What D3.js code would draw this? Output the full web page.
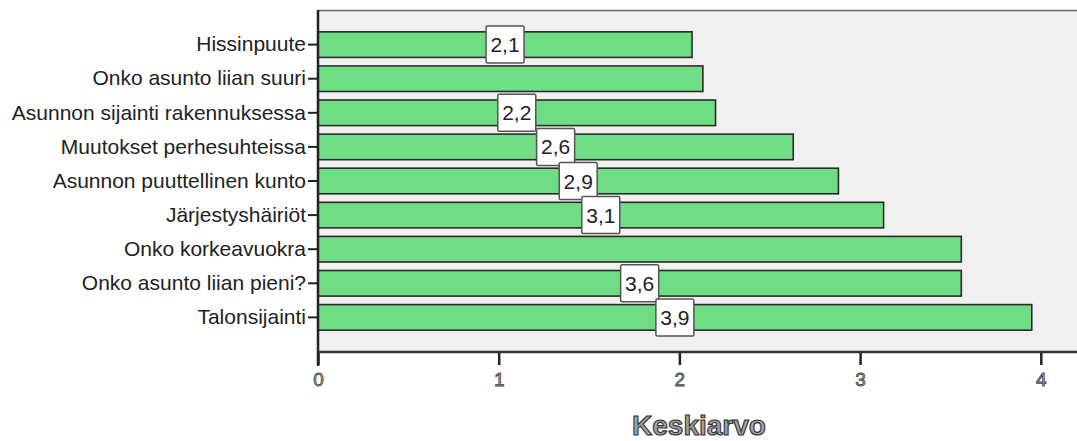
<!DOCTYPE html>
<html>
<head>
<meta charset="utf-8">
<script src="https://cdn.jsdelivr.net/npm/d3@7"></script>
<style>
  body { margin: 0; background: #fff; }
  svg { display: block; font-family: "Liberation Sans", Arial, sans-serif; }
</style>
</head>
<body>
<svg id="chart" width="1077" height="441"></svg>
<script>
// categories top to bottom
var categories = [
  "Hissinpuute",
  "Onko asunto liian suuri",
  "Asunnon sijainti rakennuksessa",
  "Muutokset perhesuhteissa",
  "Asunnon puuttellinen kunto",
  "Järjestyshäiriöt",
  "Onko korkeavuokra",
  "Onko asunto liian pieni?",
  "Talonsijainti"
];
var means = [2.07, 2.13, 2.20, 2.63, 2.88, 3.13, 3.56, 3.56, 3.95];
// value boxes as printed (some hidden in the original)
var valueLabels = ["2,1", null, "2,2", "2,6", "2,9", "3,1", null, "3,6", "3,9"];
var xTicks = [0, 1, 2, 3, 4];
var axisTitle = "Keskiarvo";

var svg = d3.select("#chart");
var plotLeft = 318, plotRight = 1077, plotTop = 10, plotBottom = 352;

var x = d3.scaleLinear().domain([0, 4.2]).range([plotLeft, plotLeft + 4.2 * 180.7]);
var y = d3.scaleBand().domain(categories).range([plotTop, plotBottom])
  .paddingInner(0.25).paddingOuter(0.64);

// plot background
svg.append("rect")
  .attr("x", plotLeft).attr("y", plotTop)
  .attr("width", plotRight - plotLeft).attr("height", plotBottom - plotTop)
  .style("fill", "#f0f0f0");

svg.append("line")
  .attr("x1", plotLeft).attr("x2", plotRight).attr("y1", plotTop + 0.5).attr("y2", plotTop + 0.5)
  .style("stroke", "#666").style("stroke-width", 1.5);

// bars
svg.selectAll("rect.bar").data(means).enter().append("rect")
  .attr("class", "bar")
  .attr("x", x(0))
  .attr("y", function (d, i) { return y(categories[i]); })
  .attr("width", function (d) { return x(d) - x(0); })
  .attr("height", y.bandwidth())
  .style("fill", "#70dd85")
  .style("stroke", "#2a2a2a")
  .style("stroke-width", 1.6);

// value boxes in the middle of each bar
var labels = svg.selectAll("g.vlabel").data(means).enter().append("g")
  .attr("class", "vlabel")
  .attr("transform", function (d, i) {
    return "translate(" + x(d / 2) + "," + (y(categories[i]) + y.bandwidth() / 2) + ")";
  })
  .style("display", function (d, i) { return valueLabels[i] ? null : "none"; });

labels.append("rect")
  .attr("x", -19).attr("y", -18.5)
  .attr("width", 38).attr("height", 37)
  .attr("rx", 1.5)
  .style("fill", "#fff")
  .style("stroke", "#555")
  .style("stroke-width", 1.5);

labels.append("text")
  .text(function (d, i) { return valueLabels[i]; })
  .attr("text-anchor", "middle")
  .attr("dy", "0.36em")
  .style("font-size", "21px")
  .style("fill", "#222");

// y axis
var yAxis = d3.axisLeft(y).tickSize(10).tickPadding(2);
var gy = svg.append("g").attr("transform", "translate(" + plotLeft + ",0)").call(yAxis);
gy.select(".domain").remove();
gy.selectAll(".tick line").style("stroke", "#222").style("stroke-width", 2);
gy.selectAll(".tick text").style("font-size", "21px").style("fill", "#222")
  .style("font-family", "'Liberation Sans', Arial, sans-serif");

svg.append("line")
  .attr("x1", plotLeft).attr("x2", plotLeft).attr("y1", plotTop).attr("y2", plotBottom + 14)
  .style("stroke", "#222").style("stroke-width", 2.5);

// x axis
var xAxis = d3.axisBottom(x).tickValues(xTicks).tickSize(13).tickPadding(8)
  .tickFormat(d3.format("d"));
var gx = svg.append("g").attr("transform", "translate(0," + plotBottom + ")").call(xAxis);
gx.select(".domain").remove();
gx.selectAll(".tick line").style("stroke", "#222").style("stroke-width", 2.5);
gx.selectAll(".tick text")
  .style("font-size", "19px")
  .style("fill", "#aaa")
  .style("stroke", "#444")
  .style("stroke-width", 0.8)
  .style("font-family", "'Liberation Sans', Arial, sans-serif");

svg.append("line")
  .attr("x1", plotLeft).attr("x2", plotRight).attr("y1", plotBottom).attr("y2", plotBottom)
  .style("stroke", "#333").style("stroke-width", 2.5);

svg.append("text")
  .text(axisTitle)
  .attr("x", 699).attr("y", 435)
  .attr("text-anchor", "middle")
  .style("font-size", "28px")
  .style("font-weight", "bold")
  .style("fill", "#a0a0a0")
  .style("stroke", "#333")
  .style("stroke-width", 1.1);
</script>
</body>
</html>
